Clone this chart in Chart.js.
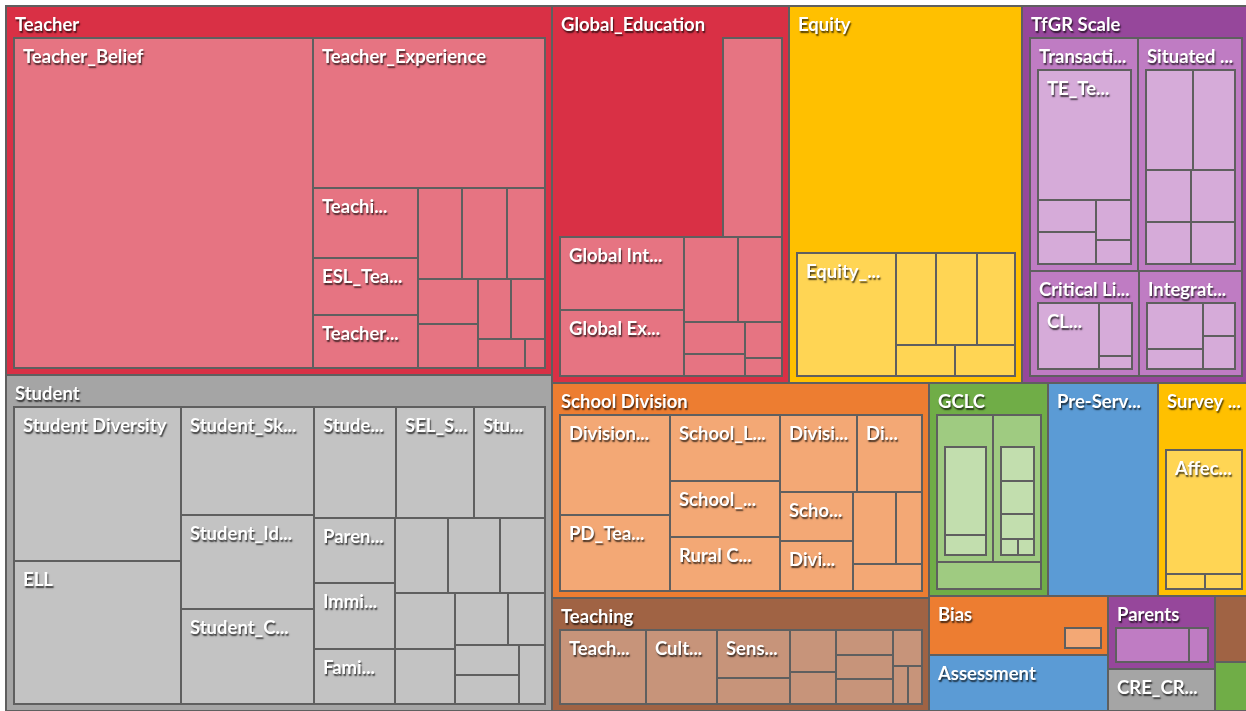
<!DOCTYPE html>
<html>
<head>
<meta charset="utf-8">
<script src="https://cdn.jsdelivr.net/npm/chart.js@4.4.1/dist/chart.umd.min.js"></script>
<style>
html,body{margin:0;padding:0;background:#ffffff;overflow:hidden}
canvas{display:block}
</style>
</head>
<body>
<canvas id="c" width="1246" height="711"></canvas>
<script>
// ---------------- DATA ----------------
// null name = "(Blank)" remainder inside a parent, "" = unlabeled category
const topNames  = ["Teacher","Student","Global_Education","Equity","TfGR Scale","School Division","Teaching","GCLC","Pre-Serv...","Survey ...","Bias","Assessment","Parents","CRE_CR...","",""];
const topValues = [2014.7,1834.6,893.5,878.5,855.8,810.6,426.0,253.5,234.3,193.8,105.0,100.0,78.1,44.9,22.4,16.7];

const teacherNames  = ["Teacher_Belief","Teacher_Experience","Teachi...","ESL_Tea...","Teacher...","","","","","","","","",""];
const teacherValues = [1134.4,400.1,83.7,68.2,63.4,46.6,46.6,39.8,30.7,30.7,23.0,23.0,15.7,6.7];

const studentNames  = ["Student Diversity","ELL","Student_Sk...","Student_Id...","Student_C...","Stude...","SEL_S...","Stu...","Paren...","Immi...","Fami...","","","","","","","","","",""];
const studentValues = [299.2,277.7,166.7,146.4,146.4,105.6,100.5,91.5,61.7,61.7,52.2,45.7,45.4,39.0,38.7,38.0,33.0,22.5,22.0,21.5,18.0];

const globalNames  = [null,"","Global Int...","Global Ex...","","","","","",""];
const globalValues = [386.6,138.4,108.2,97.8,54.3,45.1,22.9,16.1,16.0,8.2];

const equityNames  = [null,"Equity_...","","","","",""];
const equityValues = [560,144,44.5,44.5,41.5,22,22];

const tfgrNames  = ["Transacti...","Situated ...","Critical Li...","Integrat..."];
const tfgrValues = [298.8,290.4,137.7,128.9];
const transactiNames  = ["TE_Te...","","","",""];
const transactiValues = [199.7,30.9,30.9,23.3,14.0];
const situatedNames  = ["","","","","",""];
const situatedValues = [77.9,71.1,39.1,39.1,32.3,30.9];
const criticalNames  = ["CL...","",""];
const criticalValues = [89.9,38.6,9.3];
const integratNames  = ["","","",""];
const integratValues = [57.8,24.6,23.6,22.9];

const schoolNames  = ["Division...","PD_Tea...","School_L...","School_...","Rural C...","Divisi...","Di...","Scho...","Divi...","","",""];
const schoolValues = [138.8,106.6,92.6,77.2,75.9,75.3,63.0,46.0,46.0,40.2,23.8,23.4];

const teachingNames  = ["Teach...","Cult...","Sens...","","","","","","","","",""];
const teachingValues = [100.6,84.0,55.6,30.4,30.2,23.5,22.5,22.4,22.3,16.5,8.6,8.6];

const gclcNames  = ["","",""];
const gclcValues = [114.2,99.7,39.6];
const gclcLeftNames  = ["",""];
const gclcLeftValues = [92.7,21.5];
const gclcRightNames  = ["","","","",""];
const gclcRightValues = [31.0,31.0,22.6,7.8,7.3];

const surveyNames  = [null,"Affec...","",""];
const surveyValues = [39.0,138.1,8.4,8.0];

const biasNames  = [null,""];
const biasValues = [82.0,23.0];

const parentsNames  = ["",""];
const parentsValues = [62.0,16.1];

// ---------------- STYLE ----------------
const topColors = ["#D93045","#A5A5A5","#D93045","#FFC000","#96479B","#ED7D31","#A06344","#70AD47","#5B9BD5","#FFC000","#ED7D31","#5B9BD5","#96479B","#A5A5A5","#A06344","#70AD47"];
const BORDER = "#5f5f5f";
const FRAME = {x0:5, y0:5, x1:1250, y1:712};
const PAD = {l:7, t:31, r:6, b:6};
const FONT = 'bold 18.5px Lato, "Open Sans", "DejaVu Sans", sans-serif';
const LIGHT = [0, 0.33, 0.36];

// ---------------- HIERARCHY ----------------
function mk(names, values, kids){
  return names.map((nm,i)=>({name:nm, value:values[i], children:(kids && kids[i]) || null}));
}
const tree = mk(topNames, topValues, {
  0: mk(teacherNames, teacherValues),
  1: mk(studentNames, studentValues),
  2: mk(globalNames, globalValues),
  3: mk(equityNames, equityValues),
  4: mk(tfgrNames, tfgrValues, {
       0: mk(transactiNames, transactiValues),
       1: mk(situatedNames, situatedValues),
       2: mk(criticalNames, criticalValues),
       3: mk(integratNames, integratValues)}),
  5: mk(schoolNames, schoolValues),
  6: mk(teachingNames, teachingValues),
  7: mk(gclcNames, gclcValues, {
       0: mk(gclcLeftNames, gclcLeftValues),
       1: mk(gclcRightNames, gclcRightValues)}),
  9: mk(surveyNames, surveyValues),
  10: mk(biasNames, biasValues),
  12: mk(parentsNames, parentsValues)
});

// ---------------- SQUARIFIED LAYOUT (golden ratio) ----------------
const PHI = (1 + Math.sqrt(5)) / 2;
function squarify(nodes, x0, y0, x1, y1){
  let value = nodes.reduce((s,n)=>s+n.value,0);
  let i0 = 0, i1 = 0; const n = nodes.length;
  while(i0 < n){
    const dx = x1 - x0, dy = y1 - y0;
    let sumValue;
    do sumValue = nodes[i1++].value; while(!sumValue && i1 < n);
    let minValue = sumValue, maxValue = sumValue;
    const alpha = Math.max(dy/dx, dx/dy) / (value * PHI);
    let beta = sumValue * sumValue * alpha;
    let minRatio = Math.max(maxValue/beta, beta/minValue);
    for(; i1 < n; ++i1){
      const nv = nodes[i1].value;
      sumValue += nv;
      if(nv < minValue) minValue = nv;
      if(nv > maxValue) maxValue = nv;
      beta = sumValue * sumValue * alpha;
      const newRatio = Math.max(maxValue/beta, beta/minValue);
      if(newRatio > minRatio){ sumValue -= nv; break; }
      minRatio = newRatio;
    }
    const row = nodes.slice(i0, i1);
    if(dx < dy){
      const ny = value ? y0 + dy*sumValue/value : y1;
      let x = x0; const k = sumValue ? (x1-x0)/sumValue : 0;
      row.forEach(nd=>{ nd.x0 = x; x += nd.value*k; nd.x1 = x; nd.y0 = y0; nd.y1 = ny; });
      y0 = ny;
    } else {
      const nx = value ? x0 + dx*sumValue/value : x1;
      let y = y0; const k = sumValue ? (y1-y0)/sumValue : 0;
      row.forEach(nd=>{ nd.y0 = y; y += nd.value*k; nd.y1 = y; nd.x0 = x0; nd.x1 = nx; });
      x0 = nx;
    }
    value -= sumValue; i0 = i1;
  }
}

// lighten in HSL space (keeps hue and saturation)
function lightenRGB(rgb, t){
  let [r,g,b] = rgb.map(v=>v/255);
  const mx=Math.max(r,g,b), mn=Math.min(r,g,b);
  let h=0, s=0, l=(mx+mn)/2;
  if(mx!==mn){
    const d=mx-mn;
    s = l>0.5 ? d/(2-mx-mn) : d/(mx+mn);
    if(mx===r) h=(g-b)/d+(g<b?6:0); else if(mx===g) h=(b-r)/d+2; else h=(r-g)/d+4;
    h/=6;
  }
  l = l + (1-l)*t;
  function hue(p,q,tt){ if(tt<0)tt+=1; if(tt>1)tt-=1; if(tt<1/6)return p+(q-p)*6*tt; if(tt<1/2)return q; if(tt<2/3)return p+(q-p)*(2/3-tt)*6; return p; }
  let R,G,B;
  if(s===0){ R=G=B=l; } else {
    const q = l<0.5 ? l*(1+s) : l+s-l*s, p = 2*l-q;
    R=hue(p,q,h+1/3); G=hue(p,q,h); B=hue(p,q,h-1/3);
  }
  return [Math.round(R*255), Math.round(G*255), Math.round(B*255)];
}
function shade(hex, depth){
  const n = parseInt(hex.slice(1),16);
  let c = [(n>>16)&255, (n>>8)&255, n&255];
  for(let d=1; d<=depth; d++) c = lightenRGB(c, LIGHT[d]);
  return "rgb(" + c.join(",") + ")";
}

// ---------------- CHART.JS PLUGIN DRAWING THE CELLS ----------------
const treemapPlugin = {
  id: 'treemapCells',
  afterDraw(chart){
    const ctx = chart.ctx, xs = chart.scales.x, ys = chart.scales.y;
    const PX = v => Math.round(xs.getPixelForValue(v));
    const PY = v => Math.round(ys.getPixelForValue(v));
    function fillR(x0,y0,x1,y1,c){ ctx.fillStyle = c; ctx.fillRect(x0,y0,x1-x0,y1-y0); }
    function label(text, x0,y0,x1,y1){
      if(!text) return;
      ctx.save();
      ctx.beginPath(); ctx.rect(x0,y0,x1-x0,y1-y0); ctx.clip();
      ctx.font = FONT; ctx.textBaseline = 'alphabetic'; ctx.textAlign = 'left';
      ctx.shadowColor = 'rgba(0,0,0,0.7)'; ctx.shadowOffsetX = 1; ctx.shadowOffsetY = 1.5; ctx.shadowBlur = 1.5;
      ctx.fillStyle = '#ffffff';
      ctx.fillText(text, x0 + 8, y0 + 24);
      ctx.restore();
    }
    function draw(node, depth, base){
      if(node.name === null) return; // blank remainder shows parent colour
      const color = shade(base, depth);
      const X0 = PX(node.x0), X1 = PX(node.x1), Y0 = PY(node.y0), Y1 = PY(node.y1);
      if(depth > 0) fillR(X0-1, Y0-1, X1+1, Y1+1, BORDER);
      const f = {x0:X0+1, y0:Y0+1, x1:X1-1, y1:Y1-1};
      fillR(f.x0, f.y0, f.x1, f.y1, color);
      label(node.name, f.x0, f.y0, f.x1, f.y1);
      if(node.children){
        const ix0 = xs.getValueForPixel(f.x0 + PAD.l), ix1 = xs.getValueForPixel(f.x1 - PAD.r);
        const iy0 = ys.getValueForPixel(f.y0 + PAD.t), iy1 = ys.getValueForPixel(f.y1 - PAD.b);
        squarify(node.children, ix0, iy0, ix1, iy1);
        node.children.forEach(ch => draw(ch, depth+1, base));
      }
    }
    ctx.save();
    fillR(PX(FRAME.x0), PY(FRAME.y0), PX(FRAME.x1), PY(FRAME.y1), BORDER);
    squarify(tree, FRAME.x0+1, FRAME.y0+1, FRAME.x1-1, FRAME.y1-1);
    tree.forEach((nd,i)=>draw(nd, 0, topColors[i]));
    ctx.restore();
  }
};

new Chart(document.getElementById('c'), {
  type: 'scatter',
  data: { datasets: [] },
  options: {
    responsive: false,
    animation: false,
    devicePixelRatio: 1,
    layout: { padding: 0 },
    scales: {
      x: { type: 'linear', min: 0, max: 1246, display: false },
      y: { type: 'linear', min: 0, max: 711, reverse: true, display: false }
    },
    plugins: { legend: { display: false }, tooltip: { enabled: false }, title: { display: false } }
  },
  plugins: [treemapPlugin]
});
</script>
</body>
</html>
